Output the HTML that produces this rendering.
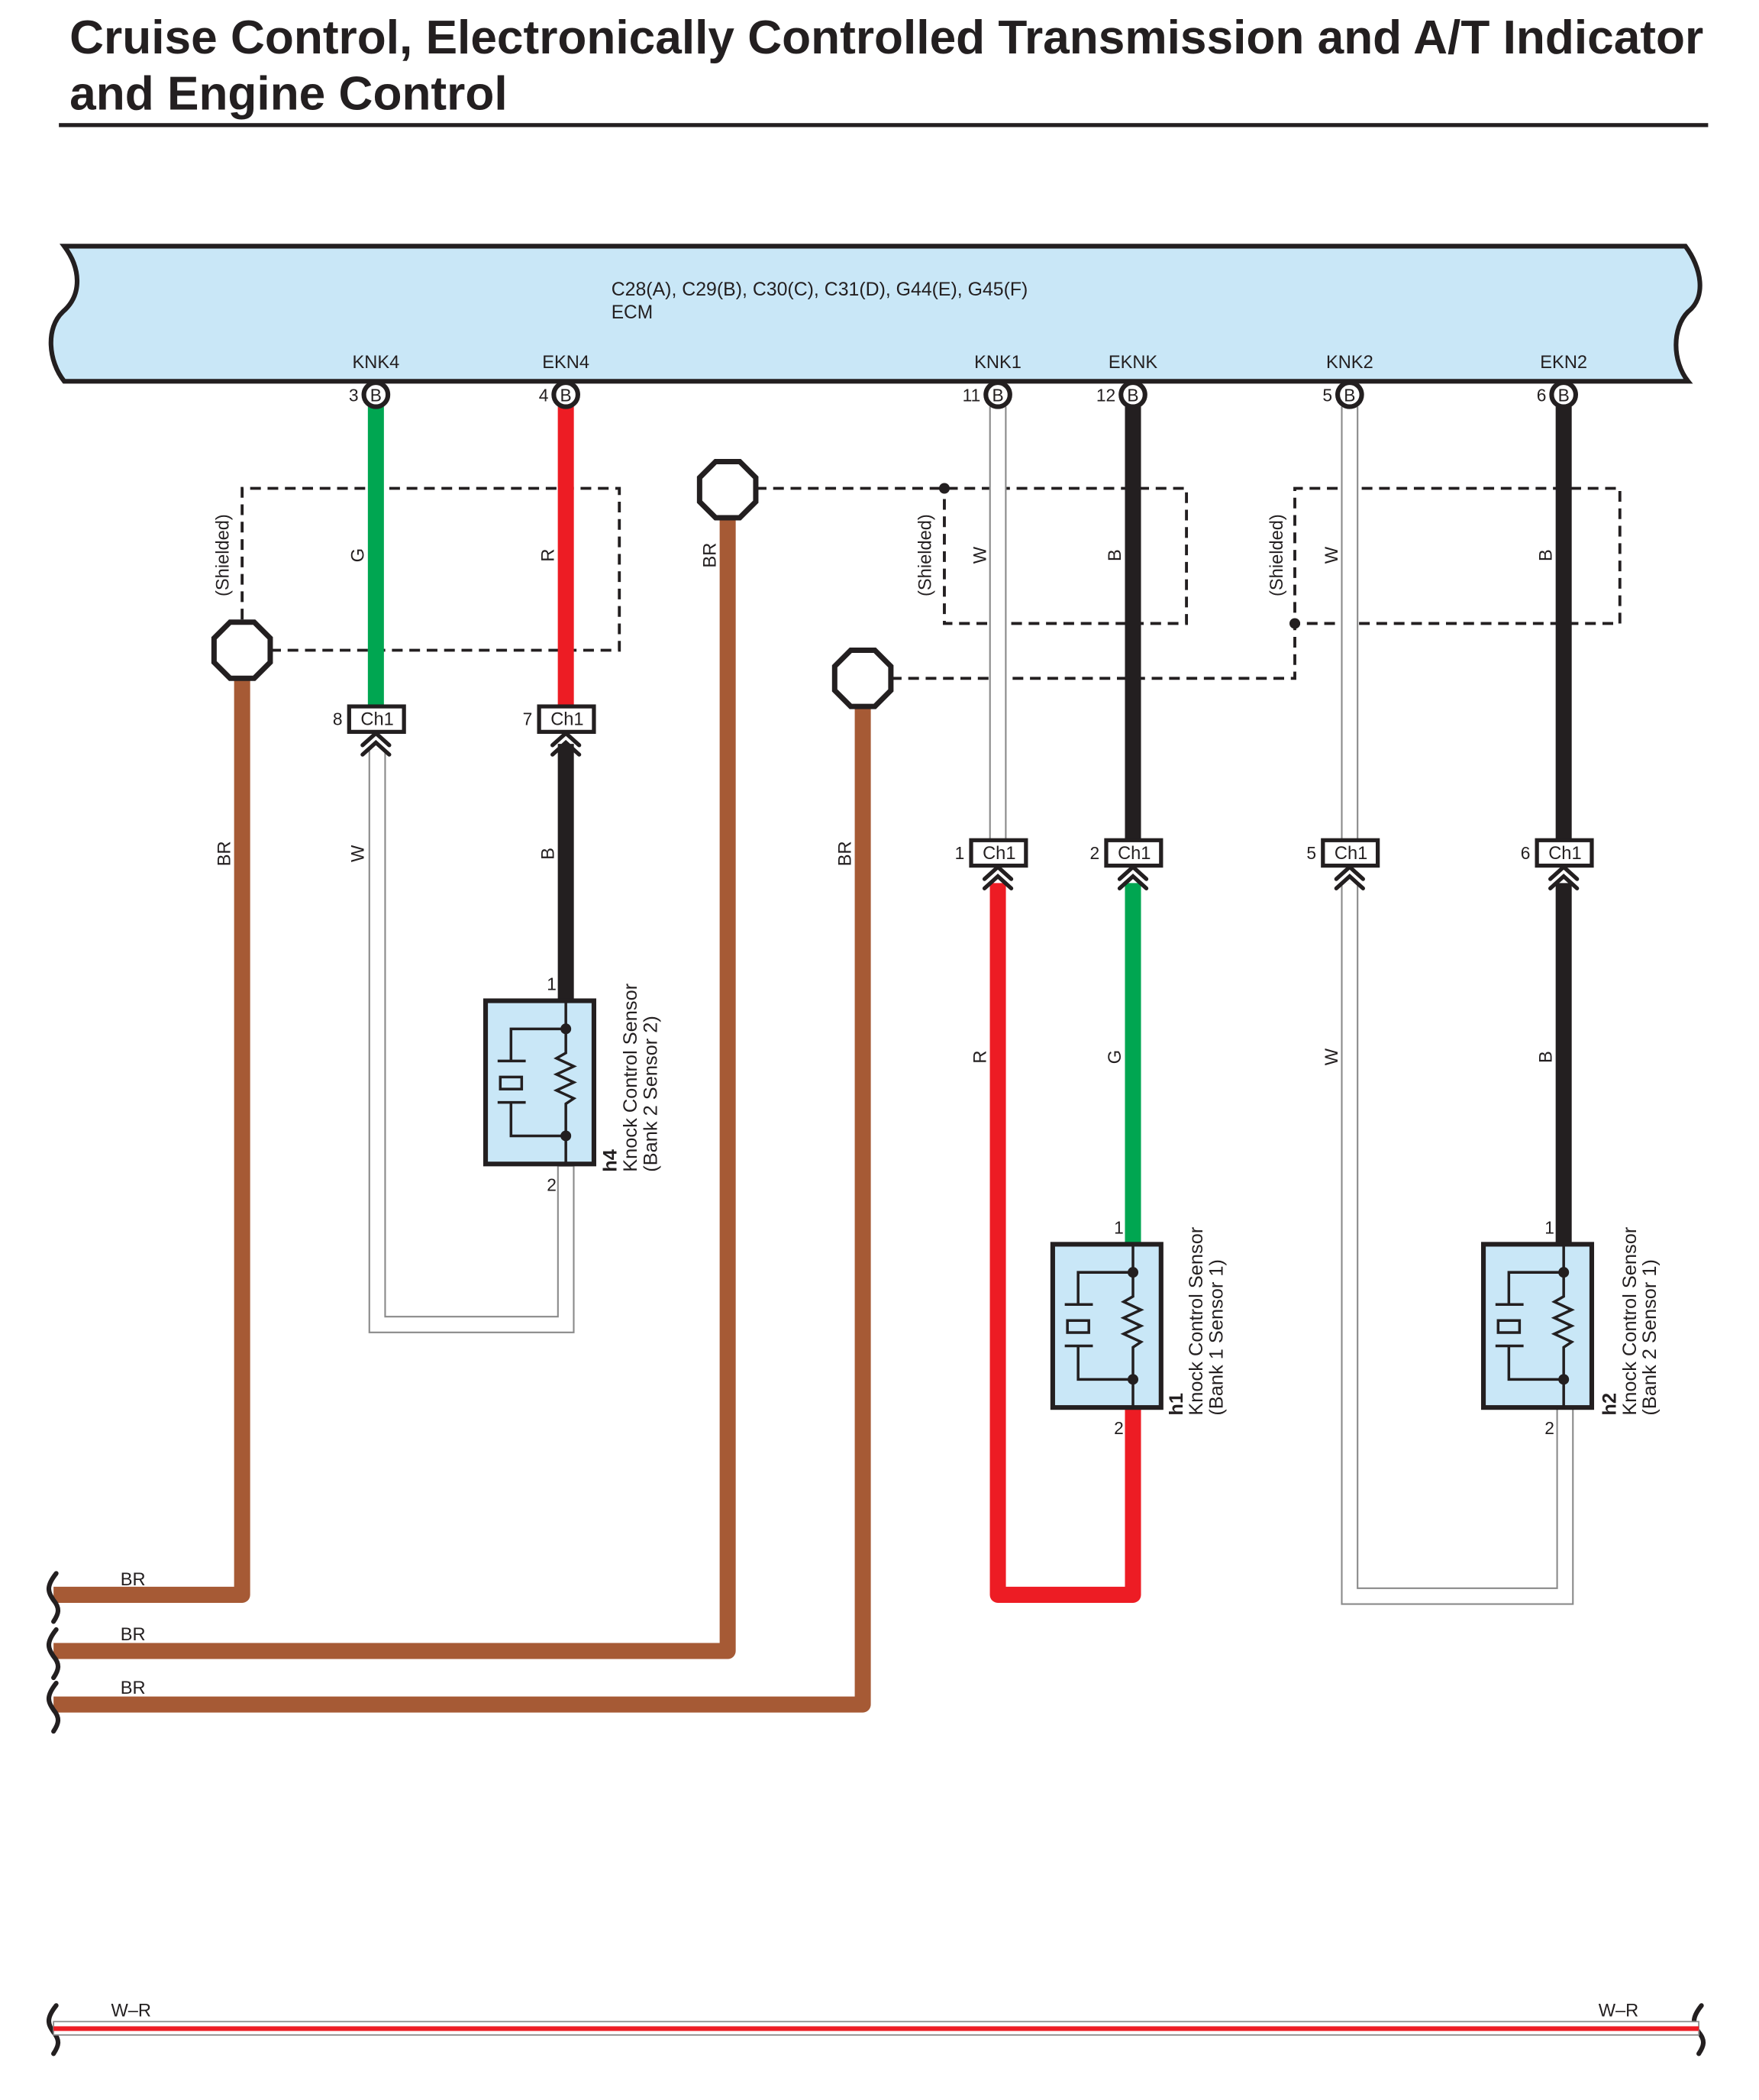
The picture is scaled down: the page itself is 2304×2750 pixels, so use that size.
<!DOCTYPE html>
<html><head><meta charset="utf-8"><style>
html,body{margin:0;padding:0;background:#fff}
svg{display:block}
text{font-family:"Liberation Sans",sans-serif;fill:#231f20}
</style></head><body>
<svg width="2304" height="2750" viewBox="0 0 1315 1569.6" xmlns="http://www.w3.org/2000/svg">
<defs>
<g id="sensor" fill="none" stroke="#231f20">
<rect x="-60" y="0" width="81" height="122" fill="#c9e7f7" stroke-width="3.5"/>
<path d="M0 0 V39 l-7 4 l13 6 l-13 6 l13 6 l-13 6 l13 6 l-6 4 V122" stroke-width="2"/>
<path d="M0 21 H-41 V45 M-51 45 H-30 M-51 76 H-30 M-41 76 V101 H0" stroke-width="2"/>
<rect x="-49" y="57" width="16" height="9" stroke-width="2"/>
<circle cx="0" cy="21" r="4" fill="#231f20" stroke="none"/>
<circle cx="0" cy="101" r="4" fill="#231f20" stroke="none"/>
</g>
<g id="conn">
<rect x="-20" y="-9" width="41" height="19" fill="#fff" stroke="#231f20" stroke-width="3"/>
</g>
<g id="chev" fill="none" stroke="#231f20" stroke-width="3" stroke-linecap="round">
<path d="M-10 20 L0 11 L10 20 M-10 27 L0 18 L10 27"/>
</g>
<g id="pin">
<circle r="9" fill="#fff" stroke="#231f20" stroke-width="3.5"/>
</g>
<polygon id="oct" points="-9,-21 9,-21 21,-9 21,9 9,21 -9,21 -21,9 -21,-9" fill="#fff" stroke="#231f20" stroke-width="4"/>
</defs>

<text x="52" y="40" font-size="35.5" font-weight="bold">Cruise Control, Electronically Controlled Transmission and A/T Indicator</text>
<text x="52" y="82" font-size="35.5" font-weight="bold">and Engine Control</text>
<rect x="44" y="92" width="1233" height="3" fill="#231f20"/>

<!-- ECM -->
<path d="M48 184 H1260 C1272 200 1276 222 1262 233 C1250 245 1250 270 1262 285 H48 C36 270 34 245 47 233 C62 220 60 200 48 184 Z" fill="#c9e7f7" stroke="#231f20" stroke-width="3.5"/>
<text x="457" y="221" font-size="14.2">C28(A), C29(B), C30(C), C31(D), G44(E), G45(F)</text>
<text x="457" y="238" font-size="14">ECM</text>

<g font-size="13.5" text-anchor="middle">
<text x="281" y="275">KNK4</text><text x="423" y="275">EKN4</text>
<text x="746" y="275">KNK1</text><text x="847" y="275">EKNK</text>
<text x="1009" y="275">KNK2</text><text x="1169" y="275">EKN2</text>
</g>

<!-- shields -->
<g fill="none" stroke="#231f20" stroke-width="2.2" stroke-dasharray="8,5">
<path d="M202 486 H463 V365 H181 V465"/>
<path d="M565 365 H887 V466 H706 V365"/>
<path d="M666 507 H968 V365 H1211 V466 H968"/>
</g>
<circle cx="706" cy="365" r="4" fill="#231f20"/>
<circle cx="968" cy="466" r="4" fill="#231f20"/>

<!-- BR wires -->
<g fill="none" stroke="#a65a35" stroke-width="12" stroke-linejoin="round">
<path d="M181 500 V1192 H40"/>
<path d="M544 380 V1234 H40"/>
<path d="M645 520 V1274 H40"/>
</g>
<use href="#oct" x="181" y="486"/>
<use href="#oct" x="544" y="366"/>
<use href="#oct" x="645" y="507"/>

<!-- upper wires -->
<g fill="none" stroke-width="12">
<path d="M281 304 V528" stroke="#00a651"/>
<path d="M423 304 V528" stroke="#ed1c24"/>
<path d="M847 304 V628" stroke="#231f20"/>
<path d="M1169 304 V628" stroke="#231f20"/>
<path d="M423 556 V750" stroke="#231f20"/>
<path d="M847 660 V932" stroke="#00a651"/>
<path d="M1169 660 V932" stroke="#231f20"/>
<path d="M746 660 V1192 H847 V1050" stroke="#ed1c24" stroke-linejoin="round"/>
</g>
<!-- W wires (double) -->
<g fill="none" stroke="#8a8a8a" stroke-width="13">
<path d="M746 304 V628"/><path d="M1009 304 V628"/>
<path d="M282 560 V990 H423 V870"/>
<path d="M1009 660 V1193 H1170 V1050"/>
</g>
<g fill="none" stroke="#fff" stroke-width="10.6">
<path d="M746 304 V628"/><path d="M1009 304 V628"/>
<path d="M282 560 V990 H423 V872"/>
<path d="M1009 660 V1193 H1170 V1052"/>
</g>

<!-- pins -->
<g font-size="13" text-anchor="end">
<use href="#pin" x="281" y="295"/><text x="268" y="300">3</text>
<use href="#pin" x="423" y="295"/><text x="410" y="300">4</text>
<use href="#pin" x="746" y="295"/><text x="733" y="300">11</text>
<use href="#pin" x="847" y="295"/><text x="834" y="300">12</text>
<use href="#pin" x="1009" y="295"/><text x="996" y="300">5</text>
<use href="#pin" x="1169" y="295"/><text x="1156" y="300">6</text>
</g>
<g font-size="13" text-anchor="middle">
<text x="281" y="300">B</text><text x="423" y="300">B</text><text x="746" y="300">B</text>
<text x="847" y="300">B</text><text x="1009" y="300">B</text><text x="1169" y="300">B</text>
</g>

<!-- connectors -->
<use href="#conn" x="281" y="537"/><use href="#chev" x="281" y="537"/>
<use href="#conn" x="423" y="537"/><use href="#chev" x="423" y="537"/>
<use href="#conn" x="746" y="637"/><use href="#chev" x="746" y="637"/>
<use href="#conn" x="847" y="637"/><use href="#chev" x="847" y="637"/>
<use href="#conn" x="1009" y="637"/><use href="#chev" x="1009" y="637"/>
<use href="#conn" x="1169" y="637"/><use href="#chev" x="1169" y="637"/>
<g font-size="13.5" text-anchor="middle">
<text x="282" y="542">Ch1</text><text x="424" y="542">Ch1</text>
<text x="747" y="642">Ch1</text><text x="848" y="642">Ch1</text>
<text x="1010" y="642">Ch1</text><text x="1170" y="642">Ch1</text>
</g>
<g font-size="13" text-anchor="end">
<text x="256" y="542">8</text><text x="398" y="542">7</text>
<text x="721" y="642">1</text><text x="822" y="642">2</text>
<text x="984" y="642">5</text><text x="1144" y="642">6</text>
</g>

<!-- sensors -->
<use href="#sensor" x="423" y="748"/>
<use href="#sensor" x="847" y="930"/>
<use href="#sensor" x="1169" y="930"/>
<g font-size="13" text-anchor="end">
<text x="416" y="740">1</text><text x="416" y="890">2</text>
<text x="840" y="922">1</text><text x="840" y="1072">2</text>
<text x="1162" y="922">1</text><text x="1162" y="1072">2</text>
</g>
<g font-size="14.5">
<g transform="translate(461,876) rotate(-90)"><text font-weight="bold">h4</text><text y="15">Knock Control Sensor</text><text y="30">(Bank 2 Sensor 2)</text></g>
<g transform="translate(884,1058) rotate(-90)"><text font-weight="bold">h1</text><text y="15">Knock Control Sensor</text><text y="30">(Bank 1 Sensor 1)</text></g>
<g transform="translate(1208,1058) rotate(-90)"><text font-weight="bold">h2</text><text y="15">Knock Control Sensor</text><text y="30">(Bank 2 Sensor 1)</text></g>
</g>

<!-- rotated wire labels -->
<g font-size="13.5" text-anchor="middle">
<text transform="translate(171,415) rotate(-90)">(Shielded)</text>
<text transform="translate(272,415) rotate(-90)">G</text>
<text transform="translate(414,415) rotate(-90)">R</text>
<text transform="translate(535,415) rotate(-90)">BR</text>
<text transform="translate(696,415) rotate(-90)">(Shielded)</text>
<text transform="translate(737,415) rotate(-90)">W</text>
<text transform="translate(838,415) rotate(-90)">B</text>
<text transform="translate(959,415) rotate(-90)">(Shielded)</text>
<text transform="translate(1000,415) rotate(-90)">W</text>
<text transform="translate(1160,415) rotate(-90)">B</text>
<text transform="translate(172,638) rotate(-90)">BR</text>
<text transform="translate(272,638) rotate(-90)">W</text>
<text transform="translate(414,638) rotate(-90)">B</text>
<text transform="translate(636,638) rotate(-90)">BR</text>
<text transform="translate(737,790) rotate(-90)">R</text>
<text transform="translate(838,790) rotate(-90)">G</text>
<text transform="translate(1000,790) rotate(-90)">W</text>
<text transform="translate(1160,790) rotate(-90)">B</text>
</g>
<g font-size="13.5">
<text x="90" y="1185">BR</text><text x="90" y="1226">BR</text><text x="90" y="1266">BR</text>
<text x="83" y="1507">W–R</text><text x="1195" y="1507">W–R</text>
</g>

<!-- break marks -->
<g fill="none" stroke="#231f20" stroke-width="3.5" stroke-linecap="round">
<path d="M42 1176 C34 1186 36 1190 40 1196 C45 1202 44 1206 40 1212"/>
<path d="M42 1218 C34 1228 36 1232 40 1238 C45 1244 44 1248 40 1254"/>
<path d="M42 1258 C34 1268 36 1272 40 1278 C45 1284 44 1288 40 1294"/>
<path d="M42 1499 C34 1509 36 1513 40 1519 C45 1525 44 1529 40 1535"/>
<path d="M1272 1499 C1264 1509 1266 1513 1270 1519 C1275 1525 1274 1529 1270 1535"/>
</g>
<rect x="40" y="1511" width="1230" height="10" fill="#fff" stroke="#8a8a8a" stroke-width="1"/>
<rect x="40" y="1514.5" width="1230" height="3.5" fill="#ed1c24"/>
</svg>
</body></html>
